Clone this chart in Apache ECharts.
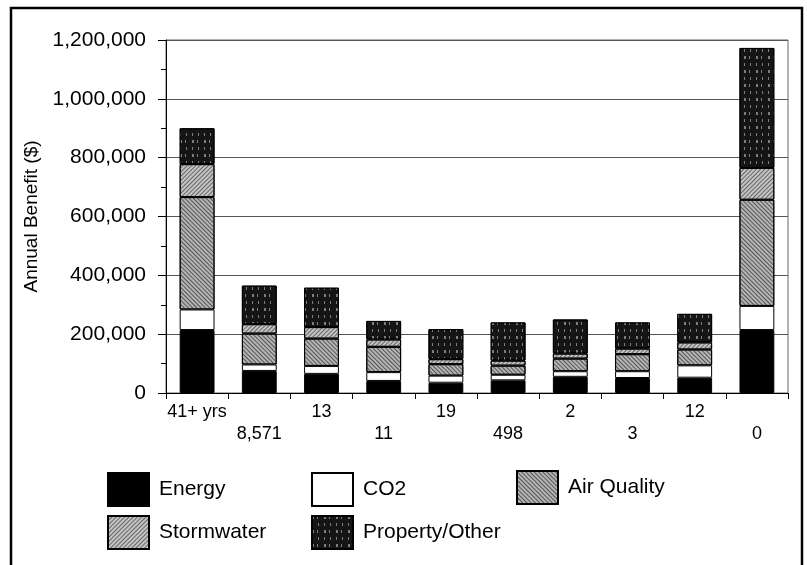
<!DOCTYPE html>
<html>
<head>
<meta charset="utf-8">
<script src="https://cdn.jsdelivr.net/npm/echarts@6/dist/echarts.min.js"></script>
<style>
html,body{margin:0;padding:0;background:#fff;}
#chart{width:807px;height:565px;}
</style>
</head>
<body>
<div id="chart"></div>
<script>
const categories = ["41+ yrs", "8,571", "13", "11", "19", "498", "2", "3", "12", "0"];
const energy     = [214000, 75000, 65000, 41000, 35000, 43000, 55000, 51000, 52000, 214000];
const co2        = [70000, 22000, 27000, 30000, 24000, 19000, 19000, 23000, 42000, 82000];
const airQuality = [382000, 105000, 93000, 86000, 39000, 31000, 43000, 58000, 54000, 361000];
const stormwater = [112000, 32000, 39000, 25000, 17000, 17000, 17000, 19000, 24000, 108000];
const property   = [122000, 131000, 134000, 63000, 102000, 130000, 116000, 89000, 97000, 408000];
const yTicks = [0, 200000, 400000, 600000, 800000, 1000000, 1200000];

const FONT = '"Liberation Sans", Arial, Helvetica, sans-serif';
const fmt = v => String(v).replace(/\B(?=(\d{3})+(?!\d))/g, ',');

const chart = echarts.init(document.getElementById('chart'), null, {renderer: 'canvas'});

function legendAt(name, left, top) {
  return {
    data: [name], left: left, top: top, padding: 0,
    icon: 'rect', itemWidth: 41, itemHeight: 33, selectedMode: false,
    textStyle: {fontFamily: FONT, fontSize: 21, color: '#000', padding: [0, 0, 0, 5]}
  };
}

const base = {type: 'bar', stack: 'total', barCategoryGap: '44%', animation: false};
const border = {borderColor: '#000', borderWidth: 1};

const option = {
  backgroundColor: '#fff',
  textStyle: {fontFamily: FONT},
  graphic: [{
    type: 'rect', silent: true,
    shape: {x: 11, y: 8, width: 791, height: 620},
    style: {fill: 'none', stroke: '#000', lineWidth: 2.5}
  }],
  legend: [
    legendAt('Energy', 107, 472),
    legendAt('CO2', 311, 472),
    legendAt('Air Quality', 516, 470),
    legendAt('Stormwater', 107, 515),
    legendAt('Property/Other', 311, 515)
  ],
  grid: {left: 166, right: 19, top: 40, bottom: 172, show: true, borderColor: '#666', borderWidth: 1, backgroundColor: 'transparent'},
  xAxis: {
    type: 'category', data: categories,
    axisLine: {lineStyle: {color: '#000', width: 1}},
    axisTick: {show: true, alignWithLabel: false, length: 6, lineStyle: {color: '#000'}},
    axisLabel: {
      interval: 0, fontFamily: FONT, fontSize: 18, color: '#000', margin: 8, lineHeight: 22,
      formatter: (v, i) => (i % 2 ? '\n' + v : v)
    }
  },
  yAxis: {
    type: 'value', min: yTicks[0], max: yTicks[yTicks.length - 1], interval: yTicks[1] - yTicks[0],
    name: 'Annual Benefit ($)', nameLocation: 'middle', nameGap: 122,
    nameTextStyle: {fontFamily: FONT, fontSize: 19, color: '#000'},
    axisLine: {show: true, lineStyle: {color: '#000', width: 1}},
    axisTick: {show: true, length: 8, lineStyle: {color: '#000'}},
    minorTick: {show: true, splitNumber: 2, length: 5, lineStyle: {color: '#000'}},
    splitLine: {show: true, lineStyle: {color: '#555', width: 1}},
    axisLabel: {fontFamily: FONT, fontSize: 21, color: '#000', margin: 20, formatter: fmt}
  },
  series: [
    Object.assign({}, base, {name: 'Energy', data: energy,
      itemStyle: Object.assign({color: '#000'}, border)}),
    Object.assign({}, base, {name: 'CO2', data: co2,
      itemStyle: Object.assign({color: '#fff'}, border)}),
    Object.assign({}, base, {name: 'Air Quality', data: airQuality,
      itemStyle: Object.assign({color: '#b4b4b4',
        decal: {symbol: 'rect', symbolSize: 1, dashArrayX: [1, 0], dashArrayY: [1, 2], rotation: Math.PI / 4, color: '#555'}}, border)}),
    Object.assign({}, base, {name: 'Stormwater', data: stormwater,
      itemStyle: Object.assign({color: '#c4c4c4',
        decal: {symbol: 'rect', symbolSize: 1, dashArrayX: [1, 0], dashArrayY: [1, 2], rotation: -Math.PI / 4, color: '#666'}}, border)}),
    Object.assign({}, base, {name: 'Property/Other', data: property,
      itemStyle: Object.assign({color: '#151515',
        decal: {symbol: 'rect', symbolSize: 1, dashArrayX: [[1, 5], [2, 3, 1, 6]], dashArrayY: [3, 4], color: 'rgba(255,255,255,0.45)'}}, border)})
  ]
};
chart.setOption(option);
</script>
</body>
</html>
